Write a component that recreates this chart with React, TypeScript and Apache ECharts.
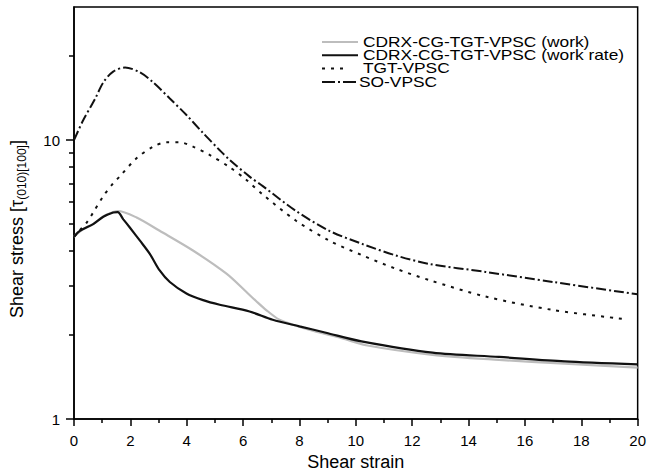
import React, { useEffect, useRef } from "react";
import * as echarts from "echarts";

const FONT = "'Liberation Sans', Arial, sans-serif";

// CDRX-CG-TGT-VPSC (work) — gray
const workStrain = [0, 0.15, 0.33, 0.68, 1.04, 1.39, 1.55, 2.22, 3.04, 4.22, 5.41, 6.11, 6.46, 6.82, 7.29, 7.76, 8.5, 9.5, 10.36, 12.72, 15.08, 17.4, 20];
const workStress = [4.5, 4.65, 4.8, 5.0, 5.33, 5.52, 5.57, 5.28, 4.73, 4.02, 3.32, 2.86, 2.65, 2.46, 2.27, 2.18, 2.07, 1.95, 1.84, 1.7, 1.63, 1.58, 1.53];

// CDRX-CG-TGT-VPSC (work rate) — black
const rateStrain = [0, 0.15, 0.33, 0.68, 1.04, 1.39, 1.55, 1.75, 1.98, 2.34, 2.69, 3.04, 3.4, 3.99, 4.58, 5.17, 6.23, 7.05, 8.0, 8.94, 10.2, 12.72, 15.08, 17.4, 20];
const rateStress = [4.5, 4.68, 4.8, 5.0, 5.31, 5.5, 5.52, 5.2, 4.86, 4.36, 3.91, 3.41, 3.1, 2.82, 2.67, 2.57, 2.43, 2.27, 2.15, 2.04, 1.9, 1.73, 1.67, 1.61, 1.57];

// TGT-VPSC — dotted
const tgtStrain = [0, 0.2, 0.45, 0.68, 1.04, 1.39, 1.63, 2.22, 2.81, 3.28, 3.75, 4.22, 4.81, 5.52, 6.11, 6.7, 7.88, 9.06, 10.24, 11.42, 12.6, 14.6, 17.0, 19.6];
const tgtStress = [4.5, 4.75, 5.06, 5.5, 6.3, 7.0, 7.42, 8.61, 9.48, 9.82, 9.82, 9.48, 8.85, 8.0, 7.21, 6.38, 5.14, 4.36, 3.86, 3.46, 3.15, 2.75, 2.46, 2.28];

// SO-VPSC — dash-dot
const soStrain = [0, 0.33, 0.74, 1.04, 1.39, 1.81, 2.34, 2.81, 3.4, 3.99, 4.58, 5.17, 5.52, 6.23, 6.7, 7.88, 9.06, 10.24, 11.42, 12.6, 14.6, 17.0, 20];
const soStress = [10.0, 11.8, 14.0, 16.1, 17.6, 18.2, 17.5, 16.1, 14.1, 12.3, 10.6, 9.2, 8.5, 7.4, 6.84, 5.57, 4.73, 4.24, 3.86, 3.6, 3.37, 3.1, 2.8];

const xMajorTicks = [0, 2, 4, 6, 8, 10, 12, 14, 16, 18, 20];
const yMajorTicks = [1, 10];
const yMinorTicks = [2, 3, 4, 5, 6, 7, 8, 9, 20];

const legendNames = [
  "CDRX-CG-TGT-VPSC (work)",
  "CDRX-CG-TGT-VPSC (work rate)",
  "TGT-VPSC",
  "SO-VPSC",
];

const zip = (xs: number[], ys: number[]) => xs.map((x, i) => [x, ys[i]]);

export default function App() {
  const ref = useRef<HTMLDivElement>(null);
  useEffect(() => {
    if (!ref.current) return;
    const chart = echarts.init(ref.current, undefined, { renderer: "svg" });
    const axisLineStyle = { color: "#000", width: 1.5 };
    const lineSeries = (name: string, data: number[][], color: string, width: number, type: any) => ({
      name,
      type: "line",
      data,
      showSymbol: false,
      symbol: "none",
      smooth: 0.3,
      lineStyle: { color, width, type },
      xAxisIndex: 0,
      yAxisIndex: 0,
    });
    const legendY = [42, 55.3, 68.6, 82];
    chart.setOption({
      animation: false,
      backgroundColor: "#fff",
      grid: {
        left: 74,
        right: 10,
        top: 7,
        bottom: 52,
        show: true,
        borderColor: "#000",
        borderWidth: 1.5,
        backgroundColor: "transparent",
      },
      xAxis: {
        type: "value",
        min: 0,
        max: 20,
        interval: 2,
        name: "Shear strain",
        nameLocation: "middle",
        nameGap: 25,
        nameTextStyle: { fontFamily: FONT, fontSize: 18, color: "#000" },
        axisLine: { show: true, onZero: false, lineStyle: axisLineStyle },
        axisTick: { show: true, inside: false, length: 7, lineStyle: axisLineStyle },
        minorTick: { show: true, splitNumber: 2, length: 4, lineStyle: axisLineStyle },
        splitLine: { show: false },
        minorSplitLine: { show: false },
        axisLabel: {
          fontFamily: FONT,
          fontSize: 15,
          color: "#000",
          margin: 14,
          customValues: xMajorTicks,
        },
      },
      yAxis: [
        {
          type: "log",
          logBase: 10,
          min: 1,
          max: 30,
          axisLine: { show: true, onZero: false, lineStyle: axisLineStyle },
          axisTick: { show: true, inside: false, length: 8, lineStyle: axisLineStyle, customValues: yMajorTicks },
          axisLabel: {
            fontFamily: FONT,
            fontSize: 15,
            color: "#000",
            margin: 14,
            customValues: yMajorTicks,
          },
          splitLine: { show: false },
        },
        {
          type: "log",
          logBase: 10,
          min: 1,
          max: 30,
          position: "left",
          axisLine: { show: false },
          axisTick: { show: true, inside: false, length: 5, lineStyle: axisLineStyle, customValues: yMinorTicks },
          axisLabel: { show: false },
          splitLine: { show: false },
        },
      ],
      series: [
        lineSeries(legendNames[0], zip(workStrain, workStress), "#bdbdbd", 2.2, "solid"),
        lineSeries(legendNames[1], zip(rateStrain, rateStress), "#111", 2.2, "solid"),
        lineSeries(legendNames[2], zip(tgtStrain, tgtStress), "#111", 2, [3, 6]),
        lineSeries(legendNames[3], zip(soStrain, soStress), "#111", 2, [10, 3, 2, 3]),
      ],
      graphic: [
        {
          type: "text",
          x: 17,
          y: 229,
          rotation: Math.PI / 2,
          style: {
            text: "{a|Shear stress [τ}{s|(010)[100]}{a|]}",
            align: "center",
            verticalAlign: "middle",
            fill: "#000",
            rich: {
              a: { fontFamily: FONT, fontSize: 18, fill: "#000", lineHeight: 22 },
              s: { fontFamily: FONT, fontSize: 12, fill: "#000", lineHeight: 22, verticalAlign: "bottom", padding: [8, 0, 0, 0] },
            },
          },
        },
        { type: "line", shape: { x1: 322, y1: legendY[0], x2: 358, y2: legendY[0] }, style: { stroke: "#bdbdbd", lineWidth: 2 } },
        { type: "line", shape: { x1: 322, y1: legendY[1], x2: 358, y2: legendY[1] }, style: { stroke: "#111", lineWidth: 2 } },
        { type: "line", shape: { x1: 322, y1: legendY[2], x2: 344, y2: legendY[2] }, style: { stroke: "#111", lineWidth: 2, lineDash: [3, 6] } },
        { type: "line", shape: { x1: 322, y1: legendY[3], x2: 357, y2: legendY[3] }, style: { stroke: "#111", lineWidth: 2, lineDash: [13, 3, 2, 3] } },
        ...legendNames.map((n, i) => ({
          type: "text",
          x: i === 3 ? 359 : 363,
          y: legendY[i],
          scaleX: 1.24,
          style: { text: n, fontFamily: FONT, fontSize: 14, lineHeight: 12, fill: "#000", align: "left", verticalAlign: "middle" },
        })),
      ],
    });
    return () => chart.dispose();
  }, []);
  return <div ref={ref} style={{ width: 649, height: 476, position: "absolute", left: 0, top: 0 }} />;
}
